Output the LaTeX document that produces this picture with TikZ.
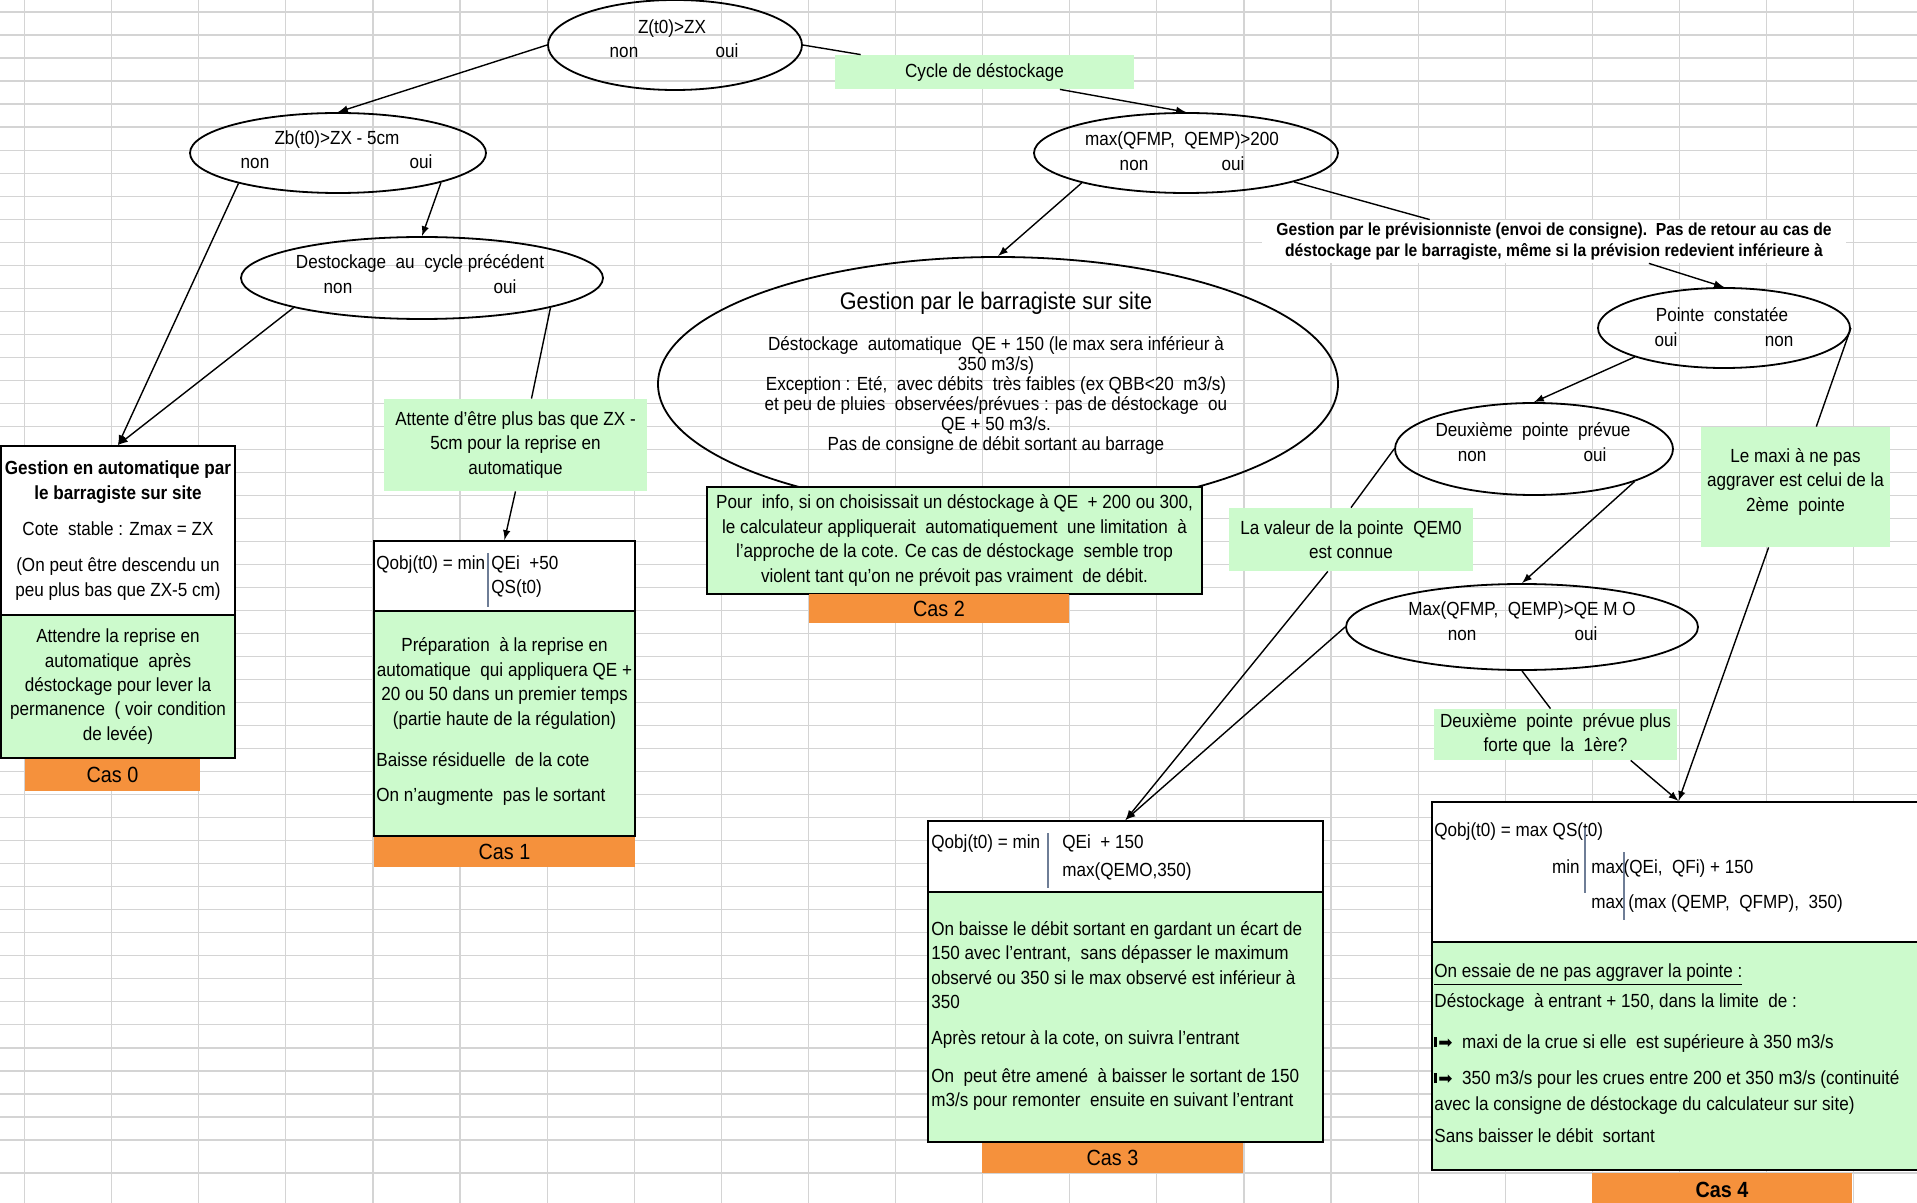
\documentclass[tikz,border=0pt]{standalone}
\usepackage{fontspec}
\setmainfont[FakeStretch=0.9]{Liberation Sans}
\newfontfamily\symb{DejaVu Sans}
\usepackage{tikz}
\usetikzlibrary{calc, shapes, arrows}
\definecolor{vert}{RGB}{204,250,204}
\definecolor{orangecas}{RGB}{245,145,60}
\definecolor{grille}{RGB}{212,212,212}
\definecolor{bleugris}{RGB}{110,125,150}
\newcommand{\flechepuce}{\rule[0.8pt]{1.4pt}{5pt}\hspace{0.6pt}{\symb\fontsize{8.5}{8.5}\selectfont ➡}}

\begin{document}
\begin{tikzpicture}[x=0.5pt, y=-0.5pt, font=\fontsize{9.5}{12.2}\selectfont, >=latex]
\tikzstyle{choix}=[ellipse, draw, line width=0.9pt, inner sep=0pt]
\tikzstyle{mot}=[inner sep=0pt, text height=1.5ex, text depth=0.3ex]
\tikzstyle{note}=[fill=vert, inner sep=0pt, align=center]
\tikzstyle{regle}=[draw, fill=white, line width=1pt, inner sep=0pt]
\tikzstyle{corps}=[draw, fill=vert, line width=1pt, inner sep=0pt]
\tikzstyle{cas}=[fill=orangecas, inner sep=0pt, font=\fontsize{11}{13}\selectfont]
\tikzstyle{fleche}=[->, line width=0.7pt]
\tikzstyle{trait}=[line width=0.7pt]
\tikzstyle{ligne}=[draw=grille, line width=0.6pt]
\tikzstyle{filet}=[draw=bleugris, line width=0.8pt]
\clip (0,0) rectangle (1917,1203);
\fill[white] (0,0) rectangle (1917,1203);
% grille du tableur
\foreach \i in {0,...,21} \draw[ligne] ({24.5+87.1*\i},0) -- ({24.5+87.1*\i},1203);
\foreach \j in {0,...,49} \draw[ligne] (0,{12+23.02*\j}) -- (1917,{12+23.02*\j});
\draw[ligne] (0,1173) -- (1917,1173);
% tests
\node[choix, minimum width=127pt, minimum height=45pt] (E1) at (675,45) {};
\node[mot] (E1t) at (672,27) {Z(t0)>ZX};
\node[mot] (E1n) at (624,51) {non};
\node[mot] (E1o) at (727,51) {oui};
\node[choix, minimum width=148pt, minimum height=40pt] (E2) at (338,153) {};
\node[mot] (E2t) at (337,138) {Zb(t0)>ZX - 5cm};
\node[mot] (E2n) at (255,162) {non};
\node[mot] (E2o) at (421,162) {oui};
\node[choix, minimum width=181pt, minimum height=41pt] (E3) at (422,278) {};
\node[mot] (E3t) at (420,262) {Destockage\ \ au\ \ cycle précédent};
\node[mot] (E3n) at (338,287) {non};
\node[mot] (E3o) at (505,287) {oui};
\node[choix, minimum width=152pt, minimum height=40pt] (E4) at (1186,153) {};
\node[mot] (E4t) at (1182,139) {max(QFMP,\ \ QEMP)>200};
\node[mot] (E4n) at (1134,164) {non};
\node[mot] (E4o) at (1233,164) {oui};
\node[choix, minimum width=340pt, minimum height=127pt] (E5) at (998,384) {};
\node[inner sep=0pt, font=\fontsize{12}{14}\selectfont] (E5t) at (996,303) {Gestion par le barragiste sur site};
\node[align=center, inner sep=0pt, font=\fontsize{9.5}{10}\selectfont] (E5c) at (996,395) {Déstockage\ \ automatique\ \ QE + 150 (le max sera inférieur à\\350 m3/s)\\Exception : Eté,\ \ avec débits\ \ très faibles (ex QBB<20\ \ m3/s)\\et peu de pluies\ \ observées/prévues : pas de déstockage\ \ ou\\QE + 50 m3/s.\\Pas de consigne de débit sortant au barrage};
\node[choix, minimum width=126pt, minimum height=40pt] (E6) at (1724,328) {};
\node[mot] (E6t) at (1722,315) {Pointe\ \ constatée};
\node[mot] (E6o) at (1666,340) {oui};
\node[mot] (E6n) at (1779,340) {non};
\node[choix, minimum width=139pt, minimum height=46pt] (E7) at (1534,449) {};
\node[mot] (E7t) at (1533,430) {Deuxième\ \ pointe\ \ prévue};
\node[mot] (E7n) at (1472,455) {non};
\node[mot] (E7o) at (1595,455) {oui};
\node[choix, minimum width=176pt, minimum height=43pt] (E8) at (1522,627) {};
\node[mot] (E8t) at (1522,609) {Max(QFMP,\ \ QEMP)>QE M O};
\node[mot] (E8n) at (1462,634) {non};
\node[mot] (E8o) at (1586,634) {oui};
% etiquettes
\node[note, minimum width=149.5pt, minimum height=17pt] (cyc) at (984.5,72) {Cycle de déstockage};
\node[note, minimum width=131.5pt, minimum height=46pt] (att) at (515.5,445) {Attente d'être plus bas que ZX -\\5cm pour la reprise en\\automatique};
\node[note, minimum width=122pt, minimum height=31.5pt] (qem) at (1351,539.5) {La valeur de la pointe\ \ QEM0\\est connue};
\node[note, minimum width=94.5pt, minimum height=60pt] (maxi) at (1795.5,487) {Le maxi à ne pas\\aggraver est celui de la\\2ème\ \ pointe\\[-5pt]\mbox{}};
\node[note, minimum width=121.5pt, minimum height=25.5pt] (forte) at (1555.5,734.5) {Deuxième\ \ pointe\ \ prévue plus\\forte que\ \ la\ \ 1ère?};
\node[note, fill=white, minimum width=292pt, minimum height=21.5pt, font=\bfseries\fontsize{8.7}{10.5}\selectfont] (prev) at (1554,241.5) {Gestion par le prévisionniste (envoi de consigne).\ \ Pas de retour au cas de\\déstockage par le barragiste, même si la prévision redevient inférieure à};
% Cas 0
\node[regle, minimum width=117pt, minimum height=84.5pt, align=center] (c0r) at (118,530.5) {\textbf{Gestion en automatique par}\\\textbf{le barragiste sur site}\\[6pt]Cote\ \ stable : Zmax = ZX\\[6pt](On peut être descendu un\\peu plus bas que ZX-5 cm)};
\node[corps, minimum width=117pt, minimum height=71.5pt, align=center] (c0v) at (118,686.5) {Attendre la reprise en\\automatique\ \ après\\déstockage pour lever la\\permanence\ \ ( voir condition\\de levée)};
\node[cas, minimum width=87.5pt, minimum height=16pt] (c0) at (112.5,775) {Cas 0};
% Cas 1
\node[regle, minimum width=130.5pt, minimum height=35pt] (c1r) at (504.5,576) {};
\node[mot, anchor=west] (c1a) at (376,563) {Qobj(t0) = min};
\draw[filet] (488,553) -- (488,607);
\node[mot, anchor=west] (c1b) at (491,563) {QEi\ \ +50};
\node[mot, anchor=west] (c1c) at (491,587) {QS(t0)};
\node[corps, minimum width=130.5pt, minimum height=112.5pt] (c1v) at (504.5,723.5) {};
\node[align=center, inner sep=0pt] (c1t) at (504.5,683.5) {Préparation\ \ à la reprise en\\automatique\ \ qui appliquera QE +\\20 ou 50 dans un premier temps\\(partie haute de la régulation)};
\node[mot, anchor=west] (c1d) at (376,760) {Baisse résiduelle\ \ de la cote};
\node[mot, anchor=west] (c1e) at (376,795) {On n'augmente\ \ pas le sortant};
\node[cas, minimum width=130.5pt, minimum height=15pt] (c1) at (504.5,852) {Cas 1};
% Cas 2
\node[corps, minimum width=247.5pt, minimum height=53.5pt, align=center] (c2v) at (954.5,540.5) {Pour\ \ info, si on choisissait un déstockage à QE\ \ + 200 ou 300,\\le calculateur appliquerait\ \ automatiquement\ \ une limitation\ \ à\\l'approche de la cote. Ce cas de déstockage\ \ semble trop\\violent tant qu'on ne prévoit pas vraiment\ \ de débit.};
\node[cas, minimum width=130pt, minimum height=14.5pt] (c2) at (939,608.5) {Cas 2};
% Cas 3
\node[regle, minimum width=197.5pt, minimum height=35.5pt] (c3r) at (1125.5,856.5) {};
\node[mot, anchor=west] (c3a) at (931,842) {Qobj(t0) = min};
\draw[filet] (1048,833) -- (1048,888);
\node[mot, anchor=west] (c3b) at (1062,842) {QEi\ \ + 150};
\node[mot, anchor=west] (c3c) at (1062,870) {max(QEMO,350)};
\node[corps, minimum width=197.5pt, minimum height=125pt] (c3v) at (1125.5,1017) {};
\node[align=left, inner sep=0pt, anchor=west] (c3t) at (931,1016) {On baisse le débit sortant en gardant un écart de\\150 avec l'entrant,\ \ sans dépasser le maximum\\observé ou 350 si le max observé est inférieur à\\350\\[5.8pt]Après retour à la cote, on suivra l'entrant\\[6.8pt]On\ \ peut être amené\ \ à baisser le sortant de 150\\m3/s pour remonter\ \ ensuite en suivant l'entrant};
\node[cas, minimum width=130.5pt, minimum height=15pt] (c3) at (1112.5,1158) {Cas 3};
% Cas 4
\node[regle, minimum width=246.5pt, minimum height=70pt] (c4r) at (1678.5,872) {};
\node[mot, anchor=west] (c4a) at (1434,830) {Qobj(t0) = max QS(t0)};
\draw[filet] (1585,828) -- (1585,893);
\node[mot, anchor=east] (c4b) at (1580,867) {min};
\node[mot, anchor=west] (c4c) at (1591,867) {max(QEi,\ \ QFi) + 150};
\draw[filet] (1624,852) -- (1624,920);
\node[mot, anchor=west] (c4d) at (1591,902) {max};
\node[mot, anchor=west] (c4e) at (1628,902) {(max (QEMP,\ \ QFMP),\ \ 350)};
\node[corps, minimum width=246.5pt, minimum height=114pt] (c4v) at (1678.5,1056) {};
\node[align=left, inner sep=0pt, anchor=west] (c4t) at (1434,1053.5) {\underline{On essaie de ne pas aggraver la pointe :}\\[2.8pt]Déstockage\ \ à entrant + 150, dans la limite\ \ de :\\[8.3pt]\flechepuce\ \ maxi de la crue si elle\ \ est supérieure à 350 m3/s\\[5.8pt]\flechepuce\ \ 350 m3/s pour les crues entre 200 et 350 m3/s (continuité\\[0.8pt]avec la consigne de déstockage du calculateur sur site)\\[3.8pt]Sans baisser le débit\ \ sortant};
\node[cas, font=\bfseries\fontsize{11}{13}\selectfont, minimum width=130pt, minimum height=17pt] (c4) at (1722,1190) {Cas 4};
% liaisons
\draw[fleche] (E1.west) -- (E2.north);
\draw[fleche] (E2.197) -- (c0r.north);
\draw[fleche] (E3.193) -- (c0r.north);
\draw[fleche] (E2.344) -- (E3.north);
\draw[trait] (E3.347) -- (att.71);
\draw[fleche] (att.south) -- (c1r.north);
\draw[trait] (E1.east) -- (cyc.172);
\draw[fleche] (cyc.347) -- (E4.north);
\draw[fleche] (E4.196) -- (E5.north);
\draw[trait] (E4.345) -- (prev.170);
\draw[fleche] (prev.347) -- (E6.north);
\draw[fleche] (E6.198) -- (E7.north);
\draw[trait] (E6.east) -- (maxi.71);
\draw[fleche] (maxi.246) -- (c4r.north);
\draw[fleche] (forte.341) -- (c4r.north);
\draw[trait] (E8.south) -- (forte.101);
\draw[fleche] (E7.342) -- (E8.north);
\draw[trait] (E7.west) -- (qem.north);
\draw[fleche] (qem.234) -- (c3r.north);
\draw[fleche] (E8.west) -- (c3r.north);
\end{tikzpicture}
\end{document}
